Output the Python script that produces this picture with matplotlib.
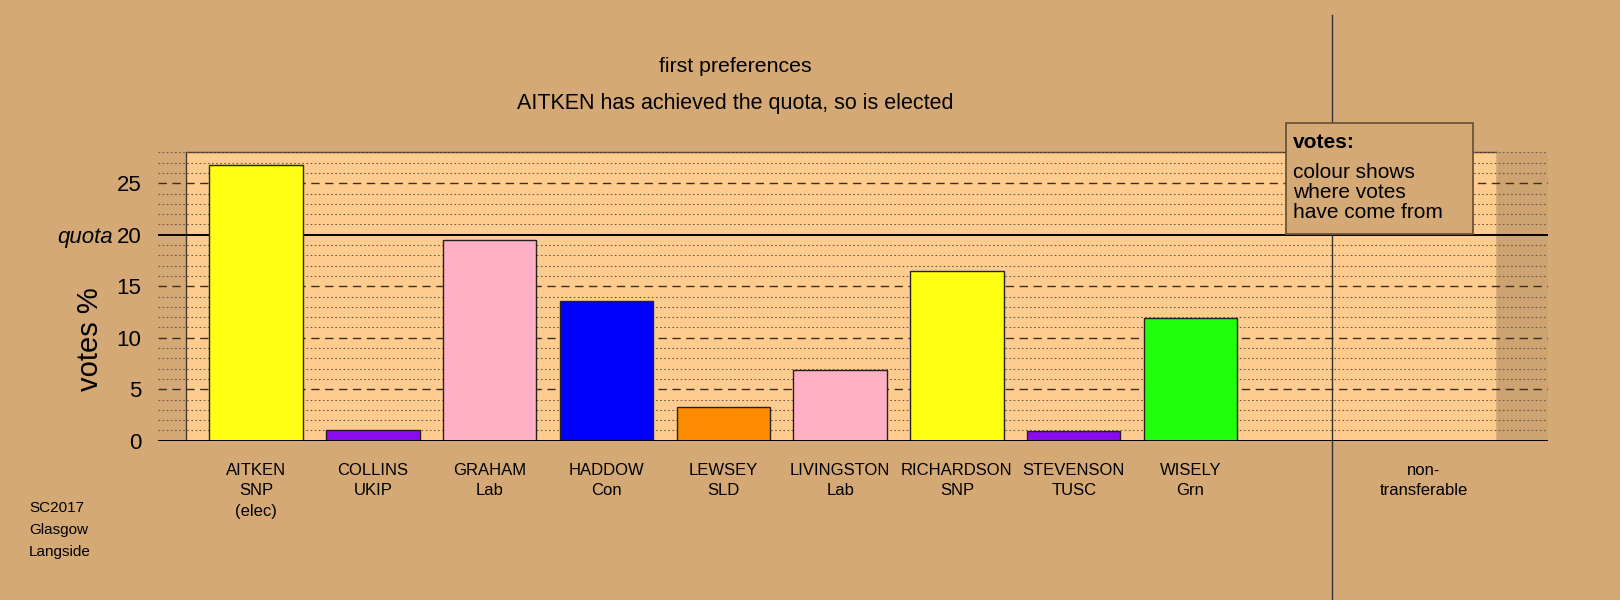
import matplotlib
matplotlib.use("Agg")
import matplotlib.pyplot as plt
from matplotlib.patches import Rectangle
from matplotlib.transforms import blended_transform_factory

plt.rcParams['font.family'] = ['Liberation Sans', 'DejaVu Sans']

# ---- data ----
names = ["AITKEN", "COLLINS", "GRAHAM", "HADDOW", "LEWSEY",
         "LIVINGSTON", "RICHARDSON", "STEVENSON", "WISELY"]
parties = ["SNP", "UKIP", "Lab", "Con", "SLD", "Lab", "SNP", "TUSC", "Grn"]
status = ["(elec)", "", "", "", "", "", "", "", ""]
votes = [26.8, 1.0, 19.5, 13.6, 3.3, 6.9, 16.45, 0.9, 11.95]
colours = ["#FFFF14", "#8A0BEE", "#FFB0C4", "#0000FF", "#FF8C00",
           "#FFB0C4", "#FFFF14", "#8A0BEE", "#22FF0A"]
quota = 20
nontransferable = 0.0
yticks = [0, 5, 10, 15, 20, 25]
place = ["SC2017", "Glasgow", "Langside"]

BG = "#D4A976"
LIGHT = "#FFCC90"

fig = plt.figure(figsize=(16.2, 6.0), dpi=100, facecolor=BG)
ax = fig.add_axes([0.0975, 0.2655, 0.8580, 0.4823])
ax.set_facecolor(BG)
ax.set_xlim(-0.84, 11.06)
ax.set_ylim(0, 28.1)
for s in ax.spines.values():
    s.set_visible(False)

# light plotting region
ax.add_patch(Rectangle((-0.6, 0), 11.22, 28.05, facecolor=LIGHT,
                       edgecolor="#4a3a28", linewidth=1.0, zorder=0))
# darker strip right of the region
ax.add_patch(Rectangle((10.62, 0), 0.44, 28.05, facecolor="#CCA371",
                       edgecolor="none", zorder=0.5))

# grid lines
for v in range(1, 29):
    if v == quota:
        continue
    if v % 5 == 0:
        ax.axhline(v, color="#3a2e22", linewidth=1.0, linestyle=(0, (6, 4)), zorder=1)
    else:
        ax.axhline(v, color="#6e5c48", linewidth=0.8, linestyle=(0, (1.5, 2.2)), zorder=1)
ax.axhline(quota, color="black", linewidth=1.4, zorder=1)
ax.axhline(0, color="black", linewidth=1.4, zorder=3)

# bars
xs = list(range(len(names)))
ax.bar(xs, votes, width=0.8, color=colours, edgecolor="#222222",
       linewidth=1.0, zorder=2)
ax.bar([10], [nontransferable], width=0.8, color="#999999",
       edgecolor="#222222", linewidth=1.0, zorder=2)

# divider line
ax.plot([9.21, 9.21], [-15.5, 41.3], color="#333333", linewidth=1.0,
        clip_on=False, zorder=1.5)

# y ticks
ax.set_xticks([])
ax.set_yticks(yticks)
ax.set_yticklabels([str(t) for t in yticks], fontsize=16)
ax.tick_params(axis="y", length=0, pad=12)
trans = blended_transform_factory(fig.transFigure, ax.transData)
ax.text(113 / 1620, quota, "quota", fontsize=16, style="italic",
        ha="right", va="center_baseline", transform=trans)
fig.text(90 / 1620, 1 - 339 / 600, "votes %", fontsize=21, rotation=90,
         ha="center", va="center")

# candidate labels
for i, (n, p, s) in enumerate(zip(names, parties, status)):
    ax.text(i, -2.15, "\n".join([t for t in (n, p, s) if t]), fontsize=12,
            ha="center", va="top", linespacing=1.45, clip_on=False)
ax.text(10, -2.15, "non-\ntransferable", fontsize=12, ha="center", va="top",
        linespacing=1.45, clip_on=False)

# titles
fig.text(735 / 1620, 1 - 66 / 600, "first preferences", fontsize=15.3,
         ha="center", va="center")
fig.text(735 / 1620, 1 - 103 / 600,
         "AITKEN has achieved the quota, so is elected", fontsize=15.5,
         ha="center", va="center")

# place label
for k, t in enumerate(place):
    fig.text(29 / 1620, 1 - (508 + 22 * k) / 600, t, fontsize=11,
             ha="left", va="center")

# info box
fig.patches.append(Rectangle((1286 / 1620, 1 - 234 / 600), 187 / 1620,
                             111 / 600, transform=fig.transFigure,
                             facecolor=BG, edgecolor="#6b5436",
                             linewidth=1.3, zorder=5))
fig.text(1293 / 1620, 1 - 142.7 / 600, "votes:", fontsize=15,
         fontweight="bold", ha="left", va="center", zorder=6)
fig.text(1293 / 1620, 1 - 192.5 / 600,
         "colour shows\nwhere votes\nhave come from", fontsize=15,
         ha="left", va="center", linespacing=1.09, zorder=6)

fig.savefig("out.png", dpi=100, facecolor=BG)
